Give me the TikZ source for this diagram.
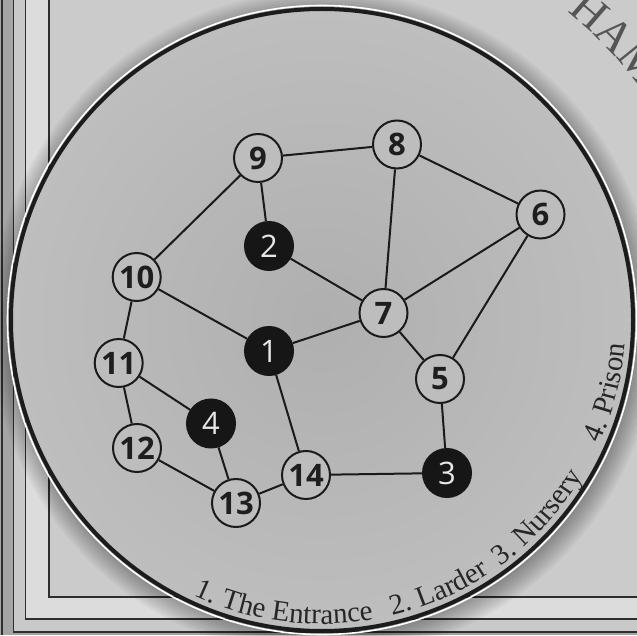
\documentclass[tikz,border=0pt]{standalone}
\usepackage{fontspec}
\setmainfont{Liberation Serif}
\newfontfamily\numfont{Open Sans}
\usetikzlibrary{decorations.text}
\definecolor{paper}{HTML}{CBCBCB}
\definecolor{bandA}{HTML}{A4A4A4}
\definecolor{bandB}{HTML}{C9C9C9}
\definecolor{bandC}{HTML}{DCDCDC}
\definecolor{framec}{HTML}{2E2E2E}
\definecolor{rimc}{HTML}{1C1C1C}
\definecolor{discin}{HTML}{AFAFAF}
\definecolor{discout}{HTML}{BEBEBE}
\definecolor{edgec}{HTML}{1A1A1A}
\definecolor{nodefill}{HTML}{BDBDBD}
\definecolor{hubc}{HTML}{161616}
\definecolor{hubtext}{HTML}{E6E6E6}
\definecolor{digitc}{HTML}{1E1E1E}
\definecolor{arctext}{HTML}{262626}
\definecolor{hamtext}{HTML}{555555}
\newcommand\arcfont{\fontsize{29}{29}\selectfont\color{arctext}}
\newcommand\hamfont{\fontsize{46}{46}\selectfont\color{hamtext}}
\tikzset{
  vtx/.style={circle, draw=edgec, line width=2pt, fill=nodefill, minimum size=48pt, inner sep=0pt,
    text=digitc, font=\numfont\bfseries\fontsize{31}{31}\selectfont},
  hub/.style={vtx, fill=hubc, draw=hubc, text=hubtext, font=\numfont\fontsize{31}{31}\selectfont},
  link/.style={draw=edgec, line width=2pt},
  framel/.style={draw=framec, line width=1.8pt},
  arctxt/.style={decorate, decoration={text along path, text align=left, text={#1}}}
}
\begin{document}
\begin{tikzpicture}[x=1pt,y=1pt]
\useasboundingbox (0,0) rectangle (637,635);
\clip (0,0) rectangle (637,635);
% frame bands
\fill[bandA] (0,0) rectangle (637,635);
\fill[bandB] (13.5,3) rectangle (637,635);
\fill[bandC] (25.5,16) rectangle (637,635);
\fill[paper] (49,38) rectangle (637,635);
\draw[framel] (2,635) -- (2,0);
\draw[framel] (13.5,635) -- (13.5,3) -- (637,3);
\draw[framel] (25.5,635) -- (25.5,16) -- (637,16);
\draw[framel] (49,635) -- (49,38) -- (637,38);
% outer lettering
\begin{scope}[shift={(322,315)}]
\path[arctxt={|\hamfont|HAM}] (51.5:394pt) arc[start angle=51.5, end angle=20, radius=394pt];
\end{scope}
% disc shadow
\coordinate (C) at (322,315);
\foreach \i in {1,...,9}{
  \fill[black, opacity=0.04] (324,311) circle ({311pt+2.5pt*\i});
}
% disc
\draw[white, line width=1.6pt] (C) circle (314.5pt);
\shade[inner color=discin, outer color=discout] (C) circle (312pt);
\draw[rimc, line width=4pt] (C) circle (311pt);
% nodes
\node[vtx] (n9)  at (258,477)   {9};
\node[vtx] (n8)  at (397,490.5) {8};
\node[vtx] (n6)  at (540.5,420.5) {6};
\node[hub] (n2)  at (269,389)   {2};
\node[vtx] (n10) at (136.7,358) {10};
\node[vtx] (n7)  at (383.5,322) {7};
\node[hub] (n1)  at (269,284)   {1};
\node[vtx] (n11) at (118.7,272) {11};
\node[vtx] (n5)  at (440,256)   {5};
\node[hub] (n4)  at (211,211.5) {4};
\node[vtx] (n12) at (137,187)   {12};
\node[vtx] (n14) at (306,160)   {14};
\node[hub] (n3)  at (447,162)   {3};
\node[vtx] (n13) at (236,132)   {13};
% connectors
\foreach \a/\b in {n9/n8, n9/n10, n9/n2, n8/n7, n8/n6, n6/n7, n6/n5, n2/n7, n10/n1, n10/n11,
  n1/n7, n1/n14, n7/n5, n5/n3, n11/n4, n11/n12, n12/n13, n4/n13, n13/n14, n14/n3}{
  \path[link] (\a) -- (\b);
}
% legend along the rim
\begin{scope}[shift={(322,315)}]
\path[arctxt={|\arcfont|1. The Entrance}] (245:304pt) arc[start angle=245, end angle=290, radius=304pt];
\path[arctxt={|\arcfont|2. Larder}] (283.5:304pt) arc[start angle=283.5, end angle=310, radius=304pt];
\path[arctxt={|\arcfont|3. Nursery}] (306:304pt) arc[start angle=306, end angle=336, radius=304pt];
\path[arctxt={|\arcfont|4. Prison}] (336:304pt) arc[start angle=336, end angle=365, radius=304pt];
\end{scope}
\end{tikzpicture}
\end{document}
